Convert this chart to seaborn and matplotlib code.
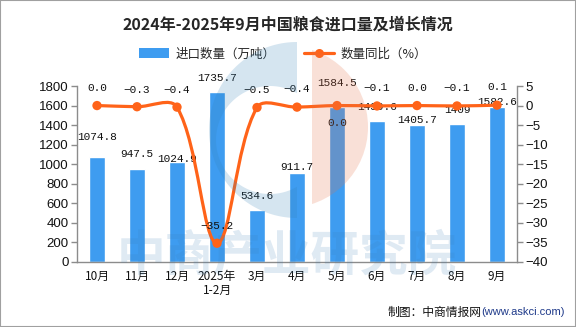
import numpy as np
import pandas as pd
import matplotlib
matplotlib.use("Agg")
import matplotlib.pyplot as plt
import seaborn as sns
from matplotlib.path import Path
from matplotlib.patches import PathPatch, Patch, Circle, Rectangle
from matplotlib.lines import Line2D

# ---- data -------------------------------------------------------------
months = ["10月", "11月", "12月", "2025年\n1-2月", "3月", "4月",
          "5月", "6月", "7月", "8月", "9月"]
import_volume = [1074.8, 947.5, 1024.9, 1735.7, 534.6, 911.7,
                 1584.5, 1439.6, 1405.7, 1409, 1582.6]
yoy_change = [0.0, -0.3, -0.4, -35.2, -0.5, -0.4, 0.0, -0.1, 0.0, -0.1, 0.1]
left_ticks = [0, 200, 400, 600, 800, 1000, 1200, 1400, 1600, 1800]
right_ticks = [-40, -35, -30, -25, -20, -15, -10, -5, 0, 5]

# ---- layout / style ---------------------------------------------------
BAR_COLOR = "#3E9CF0"
LINE_COLOR = "#FF6319"
AXIS_COLOR = "#8C8C8C"
# label offsets in pixels (positive = above the mark)
bar_label_dy = [20, 15, 3, 14, 14, 6, 24, 14, 5, 14, 5]
line_label_dy = [18, 17, 17, 17, 18, 18, -17, 18, 18, 18, 18]

sns.set_theme(style="white")
plt.rcParams["font.family"] = ["Liberation Sans", "Noto Sans CJK SC", "DejaVu Sans"]
plt.rcParams["axes.unicode_minus"] = True

W, H = 576, 327
fig = plt.figure(figsize=(W / 100, H / 100), dpi=100)
fig.patch.set_facecolor("white")

left, right, bottom, top = 77, 517, 262, 86
ax = fig.add_axes([left / W, 1 - bottom / H, (right - left) / W, (bottom - top) / H])

df = pd.DataFrame({"month": months, "volume": import_volume, "yoy": yoy_change})
sns.barplot(data=df, x="month", y="volume", color=BAR_COLOR, width=0.4,
            saturation=1, ax=ax, zorder=2)
ax.set_ylim(0, 1800)
ax.set_xlim(-0.5, len(months) - 0.5)
ax.set_yticks(left_ticks)
ax.set_xlabel("")
ax.set_ylabel("")

ax2 = ax.twinx()
ax2.set_ylim(-40, 5)
ax2.set_yticks(right_ticks)


def smooth_path(xs, ys, sx, sy, k):
    """Cubic Bezier path through the points, tangents scaled in pixel space."""
    px = np.asarray(xs, float) * sx
    py = np.asarray(ys, float) * sy
    n = len(px)
    cp_prev, cp_next = [], []
    for i in range(n):
        x0, y0 = (px[i - 1], py[i - 1]) if i > 0 else (px[i], py[i])
        x2, y2 = (px[i + 1], py[i + 1]) if i < n - 1 else (px[i], py[i])
        vx, vy = x2 - x0, y2 - y0
        l0 = np.hypot(px[i] - x0, py[i] - y0)
        l1 = np.hypot(x2 - px[i], y2 - py[i])
        r = l1 / (l0 + l1) if (l0 + l1) > 0 else 0.5
        cp_prev.append((px[i] - vx * k * (1 - r), py[i] - vy * k * (1 - r)))
        cp_next.append((px[i] + vx * k * r, py[i] + vy * k * r))
    verts = [(px[0], py[0])]
    codes = [Path.MOVETO]
    for i in range(n - 1):
        verts += [cp_next[i], cp_prev[i + 1], (px[i + 1], py[i + 1])]
        codes += [Path.CURVE4] * 3
    verts = np.array(verts) / np.array([sx, sy])
    return Path(verts, codes)


xpos = np.arange(len(months))
px_per_x = (right - left) / len(months)
px_per_y = (bottom - top) / 45.0
curve = smooth_path(xpos, yoy_change, px_per_x, px_per_y, 0.35)
ax2.add_patch(PathPatch(curve, facecolor="none", edgecolor=LINE_COLOR,
                        lw=2.3, zorder=3, capstyle="round", joinstyle="round"))
sns.scatterplot(x=xpos, y=yoy_change, ax=ax2, color=LINE_COLOR, s=45,
                edgecolor="none", zorder=4, legend=False)

# value labels
label_font = dict(family=["Liberation Mono", "DejaVu Sans Mono"], size=8, color="#111111")
for i, v in enumerate(import_volume):
    ax.annotate(f"{v:g}", (i, v), xytext=(0, bar_label_dy[i]),
                textcoords="offset pixels", ha="center", va="center",
                zorder=6, **label_font)
for i, v in enumerate(yoy_change):
    ax2.annotate(f"{v:.1f}".replace("-", "\u2212"), (i, v),
                 xytext=(0, line_label_dy[i]), textcoords="offset pixels",
                 ha="center", va="center", zorder=6, **label_font)

# axes styling
for a in (ax, ax2):
    a.grid(False)
    a.spines["top"].set_visible(False)
    for s in ("left", "right", "bottom"):
        a.spines[s].set_color(AXIS_COLOR)
        a.spines[s].set_linewidth(1.0)
ax.spines["right"].set_visible(False)
ax2.spines["left"].set_visible(False)
ax2.spines["bottom"].set_visible(False)

ax.tick_params(axis="y", which="major", direction="out", length=4, width=1,
               color=AXIS_COLOR, pad=2, labelsize=9.5, labelcolor="#111111")
ax2.tick_params(axis="y", which="major", direction="out", length=4, width=1,
                color=AXIS_COLOR, pad=2, labelsize=9.5, labelcolor="#111111")
ax.set_xticks(xpos)
ax.set_xticklabels(months, fontsize=8.5, family=["Noto Sans CJK SC", "DejaVu Sans"],
                   linespacing=1.1)
ax.tick_params(axis="x", which="major", length=0, pad=6, labelcolor="#111111")
ax.set_xticks(np.arange(len(months) + 1) - 0.5, minor=True)
ax.tick_params(axis="x", which="minor", direction="out", length=4, width=1,
               color=AXIS_COLOR)
ax2.set_zorder(ax.get_zorder() + 1)

# title and legend
cjk = ["Noto Sans CJK SC", "DejaVu Sans"]
fig.text(288 / W, 1 - 24 / H, "2024年-2025年9月中国粮食进口量及增长情况",
         ha="center", va="center", fontsize=11.5, fontweight="bold", family=cjk)
handles = [Patch(facecolor=BAR_COLOR, edgecolor="none"),
           Line2D([0], [0], color=LINE_COLOR, lw=2.3, marker="o", markersize=6.5,
                  markeredgecolor="none")]
fig.legend(handles, ["进口数量（万吨）", "数量同比（%）"], loc="center",
           bbox_to_anchor=(283 / W, 1 - 54 / H), ncol=2, frameon=False,
           prop=dict(family=cjk, size=9), handlelength=2.4, handleheight=0.8,
           handletextpad=0.5, columnspacing=2.3)

# source note
fig.text(388 / W, 1 - 312 / H, "制图：中商情报网", ha="left", va="center",
         fontsize=8.5, family=cjk, color="#111111")
fig.text(481 / W, 1 - 312 / H, "(www.askci.com)", ha="left", va="center",
         fontsize=8, family=["Liberation Sans"], color="#1F3A8A")

# brand watermark overlay
wm = fig.add_axes([0, 0, 1, 1], zorder=10)
wm.set_xlim(0, W)
wm.set_ylim(H, 0)
wm.axis("off")
wm.patch.set_alpha(0)

t = np.linspace(0, 2 * np.pi, 200)
outer = np.column_stack([297 + 88 * np.cos(t), 130 + 88 * np.sin(t)])
inner = np.column_stack([270 + 54 * np.cos(-t), 140 + 54 * np.sin(-t)])
ring = Path.make_compound_path(Path(outer, closed=True), Path(inner, closed=True))
blue_c = PathPatch(ring, facecolor="#2F7FB5", edgecolor="none", alpha=0.2)
wm.add_patch(blue_c)
blue_c.set_clip_path(Rectangle((0, 0), 297, H, transform=wm.transData))
orange_d = Circle((287, 127), 81, facecolor="#E8734A", edgecolor="none", alpha=0.22)
wm.add_patch(orange_d)
orange_d.set_clip_path(Rectangle((312, 0), W - 312, H, transform=wm.transData))
wm.text(287, 257, "中商产业研究院", ha="center", va="center", fontsize=35,
        fontweight="bold", family=cjk, color="#3A7FB8", alpha=0.16)

# outer frame
fig.add_artist(Rectangle((0, 0), 1, 1, transform=fig.transFigure, fill=False,
                         edgecolor="#A0A0A0", lw=1.5))

fig.savefig("out.png", dpi=100)
